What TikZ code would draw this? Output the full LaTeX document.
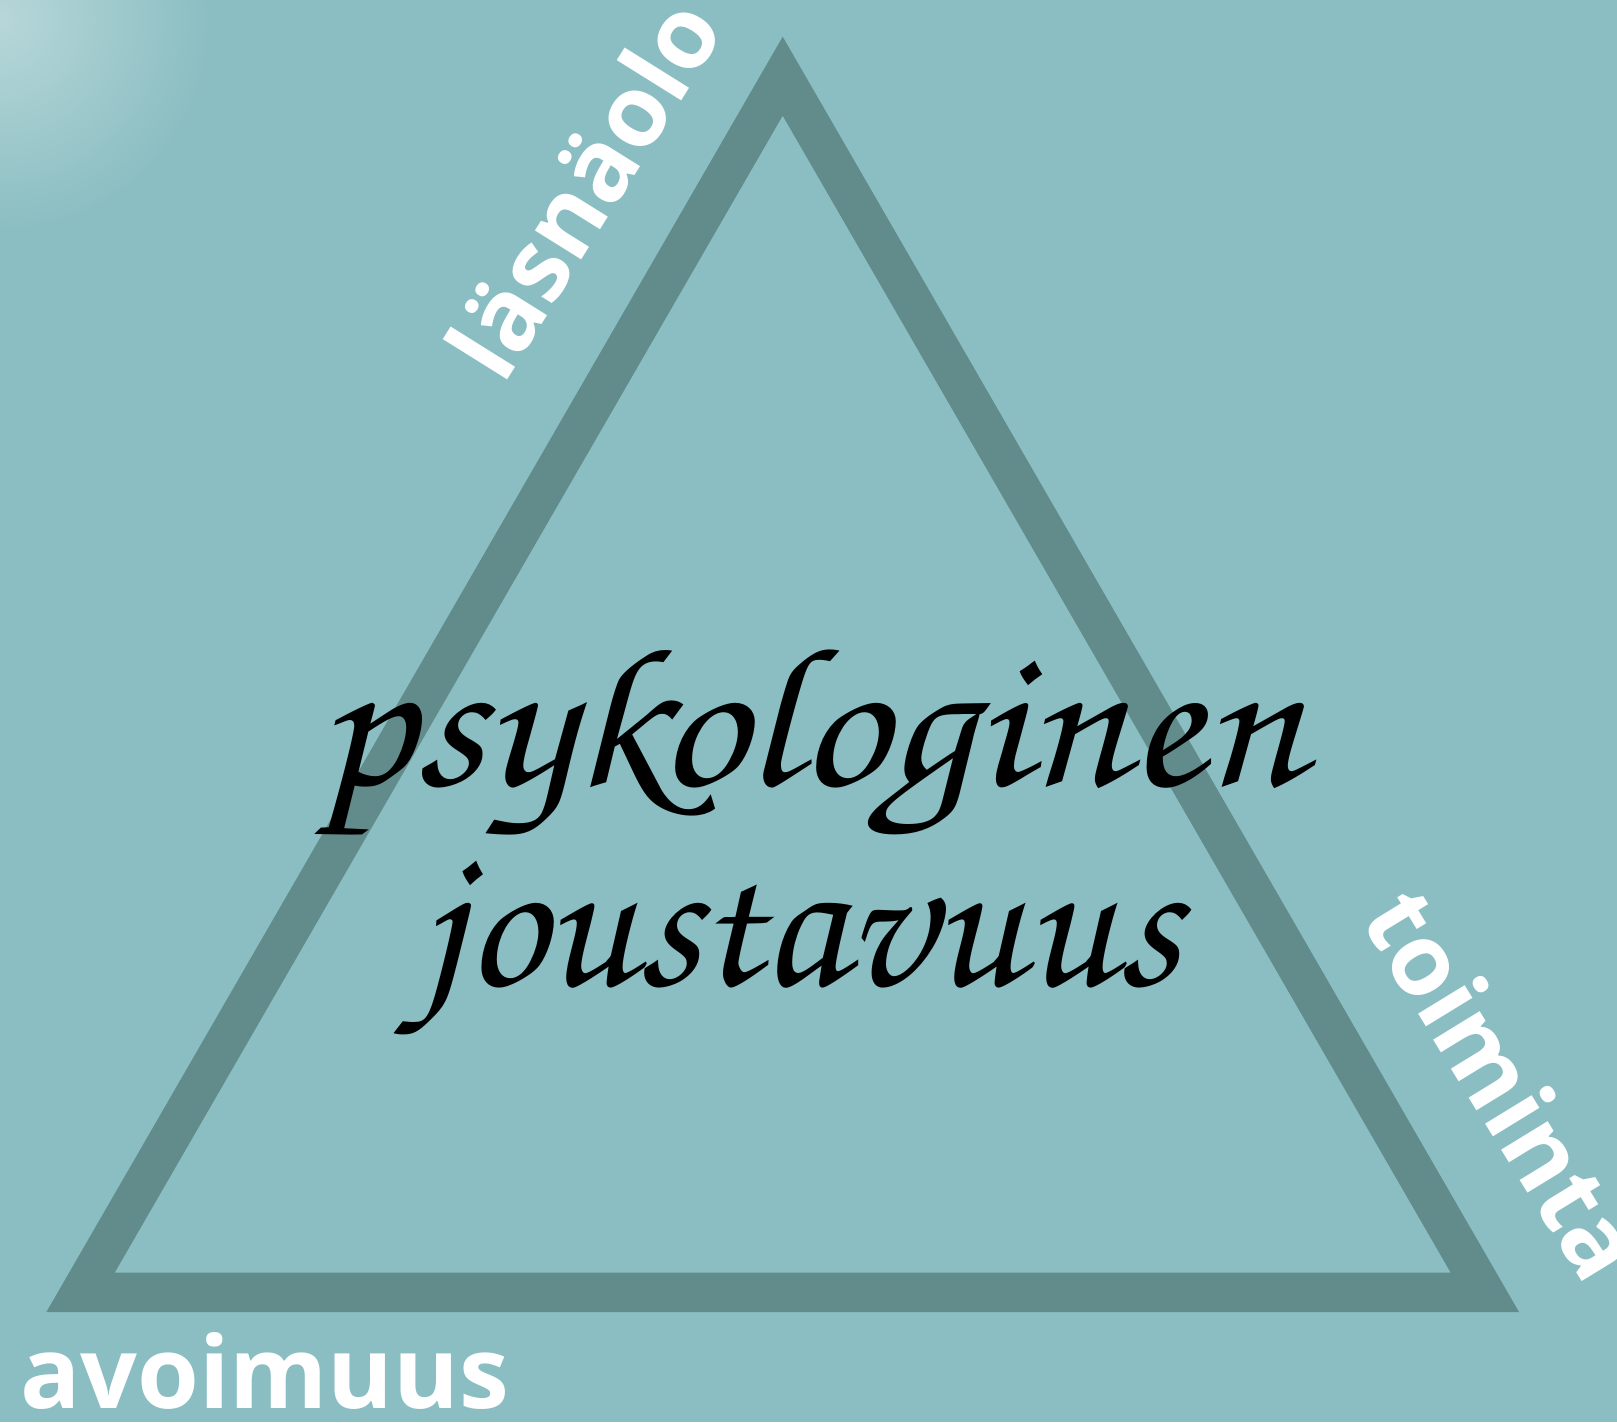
\documentclass[tikz,border=0pt]{standalone}
\usepackage{fontspec}
\newfontfamily\labelfont{Open Sans}
\newfontfamily\handfont{TeX Gyre Chorus}
\definecolor{bgteal}{RGB}{139,190,194}
\definecolor{tridark}{RGB}{98,139,139}
\tikzset{
  lbl/.style={inner sep=0pt, outer sep=0pt, anchor=base west, text=white,
    font=\labelfont\bfseries\fontsize{100}{100}\selectfont},
  hand/.style={inner sep=0pt, anchor=base, text=black,
    font=\handfont\fontsize{200}{200}\selectfont}
}
\begin{document}
\begin{tikzpicture}[x=1pt,y=-1pt]
\fill[bgteal] (0,0) rectangle (1617,1422);
\useasboundingbox (0,0) rectangle (1617,1422);
\shade[inner color=bgteal!62!white, outer color=bgteal] (0,20) circle (210);
% triangle band
\coordinate (oA) at (782.7,36.7);
\coordinate (oR) at (1519,1312);
\coordinate (oL) at (46.4,1312);
\coordinate (iA) at (782.7,115.7);
\coordinate (iR) at (1450.7,1272.7);
\coordinate (iL) at (114.7,1272.7);
\fill[tridark, even odd rule] (oA) -- (oR) -- (oL) -- cycle (iA) -- (iR) -- (iL) -- cycle;
% labels
\node[lbl, rotate=58] (lasnaolo) at (503,386) {läsnäolo};
\node[lbl, rotate=-58.5] (toiminta) at (1359,918) {toiminta};
\node[lbl] (avoimuus) at (20,1408) {avoimuus};
% script title
\node[hand, xscale=1.1] (line1) at (810,785) {psykologinen};
\node[hand] (line2) at (800,985) {joustavuus};
\end{tikzpicture}
\end{document}
